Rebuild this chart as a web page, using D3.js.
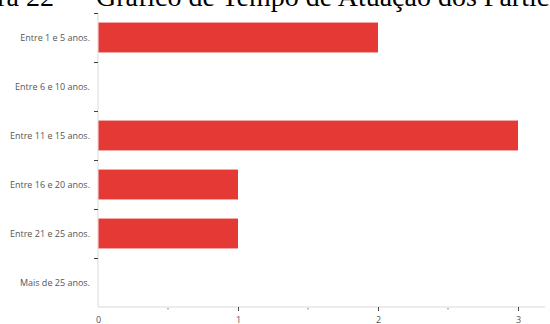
<!DOCTYPE html>
<html>
<head>
<meta charset="utf-8">
<script src="https://cdn.jsdelivr.net/npm/d3@7"></script>
<style>
  body { margin: 0; background: #fff; }
  svg { display: block; }
</style>
</head>
<body>
<svg></svg>
<script>
const categorias = ["Entre 1 e 5 anos.", "Entre 6 e 10 anos.", "Entre 11 e 15 anos.",
  "Entre 16 e 20 anos.", "Entre 21 e 25 anos.", "Mais de 25 anos."];
const valores = [2, 0, 3, 1, 1, 0];
const xTicks = [0, 1, 2, 3];
const xMinor = [0.5, 1.5, 2.5];

const width = 550;
const height = 324;
const svg = d3.select("svg").attr("width", width).attr("height", height);

// titulo cortado no topo (pedaço da legenda do documento)
svg.append("text")
    .attr("x", 54).attr("y", 6)
    .attr("text-anchor", "end")
    .attr("font-family", "Liberation Serif, serif")
    .attr("font-size", 28)
    .text("Figura 22");
svg.append("text")
    .attr("x", 96).attr("y", 6)
    .attr("font-family", "Liberation Serif, serif")
    .attr("font-size", 28)
    .text("Gráfico de Tempo de Atuação dos Participantes");

const mLeft = 98, mTop = 13, mBottom = 307;

const x = d3.scaleLinear().domain([0, 3]).range([mLeft, 518]);
const y = d3.scaleBand().domain(categorias).range([mTop, mBottom]).paddingInner(0.39).paddingOuter(0.195);
const yb = d3.scaleBand().domain(categorias).range([mTop, mBottom]);

// linhas dos eixos
svg.append("line")
    .attr("x1", mLeft).attr("x2", mLeft).attr("y1", mTop).attr("y2", mBottom)
    .attr("stroke", "#d9d9d9");
svg.append("line")
    .attr("x1", mLeft).attr("x2", 545).attr("y1", mBottom).attr("y2", mBottom)
    .attr("stroke", "#d9d9d9");

// barras
svg.selectAll(".bar")
    .data(valores.map((v, i) => ({ c: categorias[i], v })))
    .enter().append("rect")
    .attr("class", "bar")
    .attr("x", mLeft + 0.5)
    .attr("y", d => y(d.c))
    .attr("width", d => Math.max(0, x(d.v) - mLeft - 0.5))
    .attr("height", y.bandwidth())
    .attr("fill", "#e53935");

// eixo y: rótulos e marcas entre categorias
svg.selectAll(".ylab")
    .data(categorias)
    .enter().append("text")
    .attr("x", 90)
    .attr("y", d => yb(d) + yb.bandwidth() / 2)
    .attr("dy", "0.35em")
    .attr("text-anchor", "end")
    .attr("font-family", "Open Sans, sans-serif")
    .attr("font-size", 9)
    .attr("fill", "#555")
    .text(d => d);

svg.selectAll(".ytick")
    .data(categorias)
    .enter().append("line")
    .attr("x1", 94).attr("x2", 98)
    .attr("y1", d => Math.round(yb(d)) + 0.5)
    .attr("y2", d => Math.round(yb(d)) + 0.5)
    .attr("stroke", "#444");

// eixo x
const xAxis = svg.append("g")
    .attr("transform", `translate(0,${mBottom})`)
    .call(d3.axisBottom(x).tickValues(xTicks).tickFormat(d3.format("d")).tickSize(4).tickPadding(6));
xAxis.select(".domain").remove();
xAxis.selectAll(".tick line").attr("stroke", "#444")
    .attr("opacity", d => d === 0 ? 0 : 1);
xAxis.selectAll(".tick text")
    .attr("font-family", "Open Sans, sans-serif")
    .attr("font-size", 9)
    .attr("fill", "#555");

svg.selectAll(".minor")
    .data(xMinor)
    .enter().append("line")
    .attr("x1", d => x(d)).attr("x2", d => x(d))
    .attr("y1", mBottom + 1).attr("y2", mBottom + 2.5)
    .attr("stroke", "#777");
</script>
</body>
</html>
